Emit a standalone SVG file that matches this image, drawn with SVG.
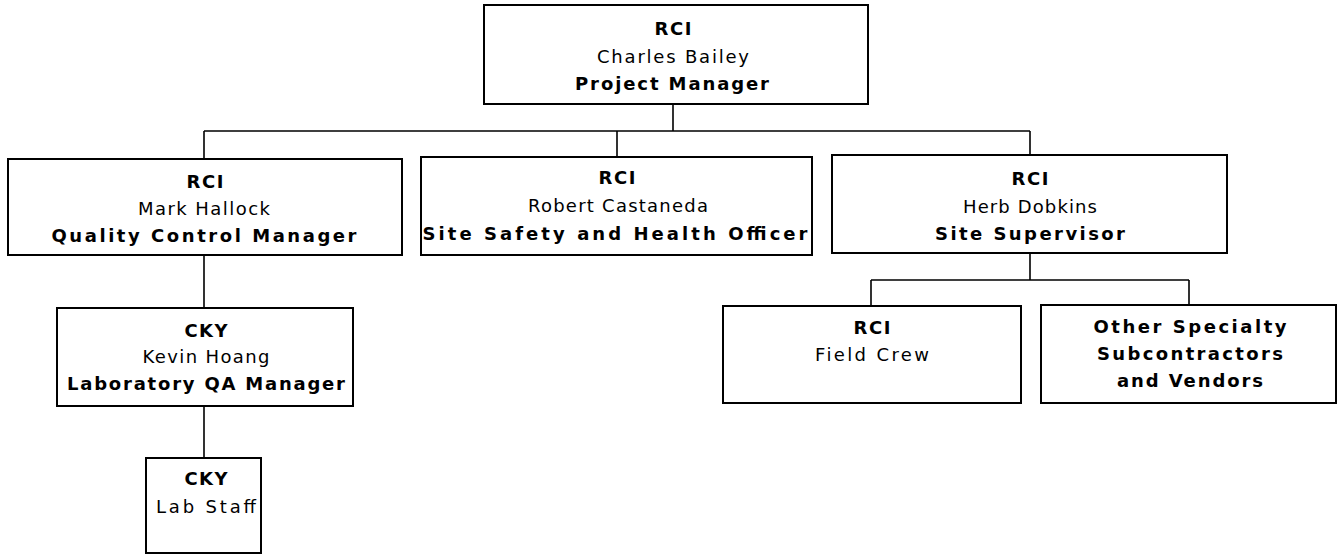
<svg xmlns="http://www.w3.org/2000/svg" width="1343" height="555" viewBox="0 0 1343 555">
<style>
.box{fill:#fff;stroke:#000;stroke-width:2}
.con{fill:none;stroke:#000;stroke-width:1.6}
text{font-family:"DejaVu Sans","Liberation Sans",sans-serif;font-size:18px;fill:#000;text-anchor:middle}
.b{font-weight:bold}
</style>
<rect width="1343" height="555" fill="#fff"/>
<g id="connectors">
<path class="con" d="M673 104V131M204 131H1030M204 131V159M617 131V157M1030 131V155"/>
<path class="con" d="M204 255V308M204 406V458"/>
<path class="con" d="M1030 253V280M871 280H1189M871 280V306M1189 280V305"/>
</g>
<g id="n-pm">
<rect class="box" x="484" y="5" width="384" height="99"/>
<text class="b" x="673" y="35" textLength="37" lengthAdjust="spacing">RCI</text>
<text x="673" y="63" textLength="152" lengthAdjust="spacing">Charles  Bailey</text>
<text class="b" x="672" y="90" textLength="194" lengthAdjust="spacing">Project  Manager</text>
</g>
<g id="n-qc">
<rect class="box" x="8" y="159" width="394" height="96"/>
<text class="b" x="205" y="188" textLength="37" lengthAdjust="spacing">RCI</text>
<text x="204" y="215" textLength="132" lengthAdjust="spacing">Mark  Hallock</text>
<text class="b" x="204" y="242" textLength="305" lengthAdjust="spacing">Quality  Control  Manager</text>
</g>
<g id="n-ssho">
<rect class="box" x="421" y="157" width="391" height="98"/>
<text class="b" x="617" y="184" textLength="37" lengthAdjust="spacing">RCI</text>
<text x="618" y="212" textLength="180" lengthAdjust="spacing">Robert  Castaneda</text>
<text class="b" x="615" y="240" textLength="385" lengthAdjust="spacing">Site  Safety  and  Health  Officer</text>
</g>
<g id="n-ss">
<rect class="box" x="832" y="155" width="395" height="98"/>
<text class="b" x="1030" y="185" textLength="37" lengthAdjust="spacing">RCI</text>
<text x="1030" y="213" textLength="134" lengthAdjust="spacing">Herb  Dobkins</text>
<text class="b" x="1030" y="240" textLength="190" lengthAdjust="spacing">Site   Supervisor</text>
</g>
<g id="n-lqa">
<rect class="box" x="57" y="308" width="296" height="98"/>
<text class="b" x="206" y="337" textLength="43" lengthAdjust="spacing">CKY</text>
<text x="206" y="363" textLength="127" lengthAdjust="spacing">Kevin  Hoang</text>
<text class="b" x="206" y="390" textLength="278" lengthAdjust="spacing">Laboratory  QA  Manager</text>
</g>
<g id="n-lab">
<rect class="box" x="146" y="458" width="115" height="95"/>
<text class="b" x="206" y="485" textLength="43" lengthAdjust="spacing">CKY</text>
<text x="206" y="513" textLength="100" lengthAdjust="spacing">Lab  Staff</text>
</g>
<g id="n-fc">
<rect class="box" x="723" y="306" width="298" height="97"/>
<text class="b" x="872" y="334" textLength="37" lengthAdjust="spacing">RCI</text>
<text x="872" y="361" textLength="114" lengthAdjust="spacing">Field   Crew</text>
</g>
<g id="n-osv">
<rect class="box" x="1041" y="305" width="295" height="98"/>
<text class="b" x="1190" y="333" textLength="193" lengthAdjust="spacing">Other  Specialty</text>
<text class="b" x="1190" y="360" textLength="186" lengthAdjust="spacing">Subcontractors</text>
<text class="b" x="1190" y="387" textLength="146" lengthAdjust="spacing">and Vendors</text>
</g>
</svg>
